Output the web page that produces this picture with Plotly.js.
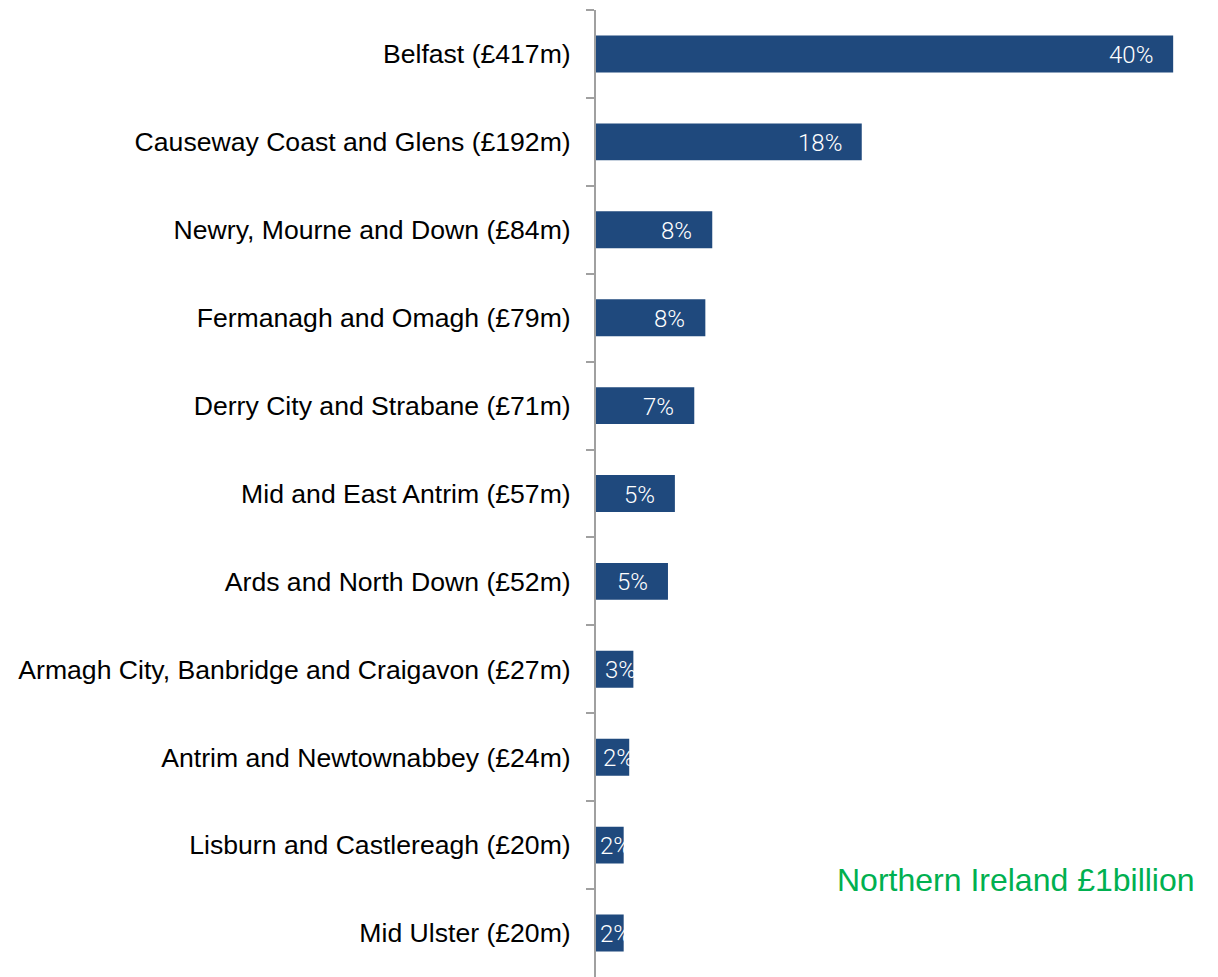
<!DOCTYPE html>
<html>
<head>
<meta charset="utf-8">
<script src="https://cdn.plot.ly/plotly-3.0.1.min.js"></script>
<style>html,body{margin:0;padding:0;background:#fff}#chart{width:1218px;height:977px}</style>
</head>
<body>
<div id="chart"></div>
<script>
var councils = ["Belfast (£417m)", "Causeway Coast and Glens (£192m)", "Newry, Mourne and Down (£84m)",
  "Fermanagh and Omagh (£79m)", "Derry City and Strabane (£71m)", "Mid and East Antrim (£57m)",
  "Ards and North Down (£52m)", "Armagh City, Banbridge and Craigavon (£27m)",
  "Antrim and Newtownabbey (£24m)", "Lisburn and Castlereagh (£20m)", "Mid Ulster (£20m)"];
var spend = [417, 192, 84, 79, 71, 57, 52, 27, 24, 20, 20];
var shareLabels = ["40%", "18%", "8%", "8%", "7%", "5%", "5%", "3%", "2%", "2%", "2%"];
var totalLabel = "Northern Ireland £1billion";

var narrow = "Roboto, Liberation Sans, sans-serif";
var annotations = spend.map(function (v, i) {
  var big = v >= 40;
  return {
    x: big ? v : v / 2, y: councils[i], xref: "x", yref: "y",
    text: shareLabels[i], showarrow: false,
    xanchor: big ? "right" : "center", xshift: big ? -18 : 6, yshift: -1,
    font: {family: narrow, size: 24, weight: 300, color: "#ffffff"}
  };
});
annotations.push({
  x: 0.987, y: 0.10, xref: "paper", yref: "paper", xanchor: "right", yanchor: "middle",
  text: totalLabel, showarrow: false,
  font: {family: "Liberation Sans, Arial, sans-serif", size: 32, color: "#00B050"}
});

Plotly.newPlot("chart", [{
  type: "bar", orientation: "h", x: spend, y: councils,
  marker: {color: "#1F497D"}, hoverinfo: "x+y"
}], {
  width: 1218, height: 977,
  margin: {l: 596, r: 13, t: 10, b: 0},
  paper_bgcolor: "#fff", plot_bgcolor: "#fff",
  bargap: 0.58,
  showlegend: false,
  xaxis: {range: [0, 440], visible: false, showgrid: false, zeroline: false, fixedrange: true},
  yaxis: {
    type: "category", autorange: "reversed", tickson: "boundaries",
    ticks: "outside", ticklen: 8, tickwidth: 2, tickcolor: "#A0A0A0",
    showline: true, linecolor: "#A0A0A0", linewidth: 2,
    showgrid: false, zeroline: false, ticklabelstandoff: 18,
    tickfont: {family: "Liberation Sans, Arial, sans-serif", size: 26.6, color: "#000000"}
  },
  annotations: annotations
}, {displayModeBar: false, staticPlot: true});
</script>
</body>
</html>
